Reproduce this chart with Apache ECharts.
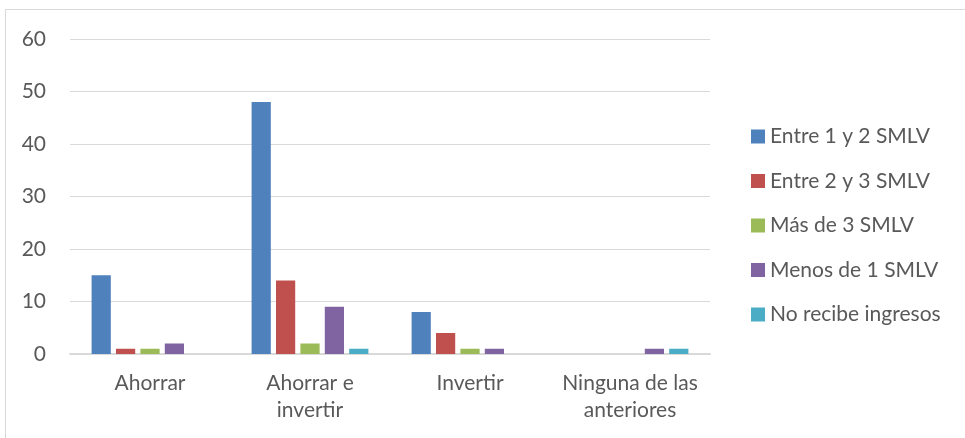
<!DOCTYPE html>
<html>
<head>
<meta charset="utf-8">
<script src="https://cdn.jsdelivr.net/npm/echarts@6/dist/echarts.min.js"></script>
<style>
html, body { margin: 0; padding: 0; background: #fff; }
#chart { width: 965px; height: 438px; position: relative; }
#frame { position: absolute; left: 5px; top: 9px; width: 965px; height: 440px; border: 1px solid #d9d9d9; box-sizing: border-box; pointer-events: none; }
</style>
</head>
<body>
<div id="chart"></div>
<div id="frame"></div>
<script>
var categories = ['Ahorrar', 'Ahorrar e\ninvertir', 'Invertir', 'Ninguna de las\nanteriores'];
var seriesNames = ['Entre 1 y 2 SMLV', 'Entre 2 y 3 SMLV', 'Más de 3 SMLV', 'Menos de 1 SMLV', 'No recibe ingresos'];
var entre1y2 = [15, 48, 8, 0];
var entre2y3 = [1, 14, 4, 0];
var masDe3 = [1, 2, 1, 0];
var menosDe1 = [2, 9, 1, 1];
var noRecibe = [0, 1, 0, 1];
var colors = ['#4f81bd', '#c0504d', '#9bbb59', '#8064a2', '#4bacc6'];

var allData = [entre1y2, entre2y3, masDe3, menosDe1, noRecibe];
var font = 'Lato, "Open Sans", sans-serif';

var myChart = echarts.init(document.getElementById('chart'));
var series = [];
for (var i = 0; i < seriesNames.length; i++) {
    series.push({
        name: seriesNames[i],
        type: 'bar',
        data: allData[i],
        barGap: '27%',
        barCategoryGap: '27%',
        itemStyle: { color: colors[i] }
    });
}
var option = {
    animation: false,
    color: colors,
    grid: { left: 70, right: 255, top: 39, bottom: 84 },
    legend: {
        orient: 'vertical',
        left: 751,
        top: 126,
        padding: 0,
        itemWidth: 14,
        itemHeight: 14,
        itemGap: 23.5,
        icon: 'rect',
        textStyle: { fontFamily: font, fontSize: 21, color: '#595959' },
        data: seriesNames
    },
    xAxis: {
        type: 'category',
        data: categories,
        axisLine: { lineStyle: { color: '#d9d9d9', width: 2 } },
        axisTick: { show: false },
        axisLabel: { interval: 0, fontFamily: font, fontSize: 21, color: '#595959', margin: 16, lineHeight: 27 }
    },
    yAxis: {
        type: 'value',
        min: 0,
        max: 60,
        interval: 10,
        axisLine: { show: false },
        axisTick: { show: false },
        splitLine: { lineStyle: { color: '#d9d9d9', width: 1 } },
        axisLabel: { fontFamily: font, fontSize: 21, color: '#595959', margin: 24 }
    },
    series: series
};
myChart.setOption(option);
</script>
</body>
</html>
